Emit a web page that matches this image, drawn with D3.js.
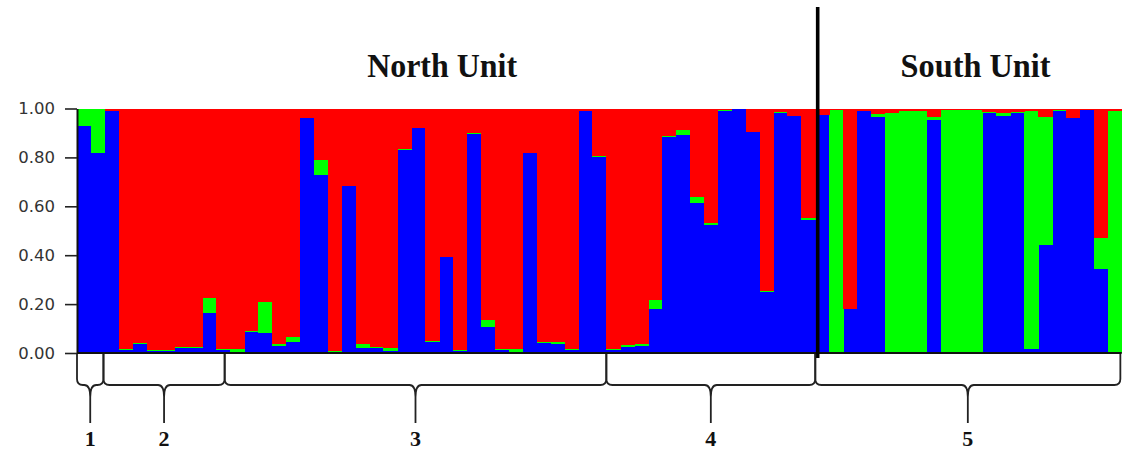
<!DOCTYPE html>
<html>
<head>
<meta charset="utf-8">
<script src="https://cdn.jsdelivr.net/npm/d3@7"></script>
<style>
  html, body { margin: 0; padding: 0; background: #fff; }
  svg { display: block; }
</style>
</head>
<body>
<svg id="chart" width="1123" height="452"></svg>
<script>
// Membership coefficients (Q) per individual for the three clusters,
// in plotting order, bottom to top: blue, green, red.
const qBlue = [
  0.93, 0.82, 0.99, 0.014, 0.037, 0.01, 0.01, 0.02, 0.02, 0.165,
  0.014, 0.004, 0.085, 0.08, 0.03, 0.045, 0.96, 0.73, 0.005, 0.685,
  0.02, 0.02, 0.01, 0.83, 0.92, 0.045, 0.393, 0.01, 0.895, 0.105,
  0.014, 0.005, 0.818, 0.041, 0.037, 0.014, 0.989, 0.80, 0.014, 0.023,
  0.03, 0.18, 0.882, 0.893, 0.612, 0.523, 0.989, 0.996, 0.903, 0.249,
  0.982, 0.968, 0.544, 0.975, 0.0, 0.18, 0.99, 0.965, 0.0, 0.0,
  0.005, 0.955, 0.0, 0.0, 0.0, 0.98, 0.968, 0.98, 0.015, 0.44,
  0.99, 0.96, 0.995, 0.345, 0.0
];
const qGreen = [
  0.07, 0.18, 0.0, 0.004, 0.003, 0.003, 0.003, 0.003, 0.003, 0.06,
  0.003, 0.012, 0.003, 0.13, 0.005, 0.02, 0.0, 0.06, 0.003, 0.0,
  0.017, 0.003, 0.01, 0.005, 0.0, 0.003, 0.0, 0.003, 0.003, 0.032,
  0.003, 0.01, 0.0, 0.003, 0.007, 0.003, 0.0, 0.004, 0.003, 0.01,
  0.005, 0.035, 0.004, 0.021, 0.028, 0.007, 0.003, 0.002, 0.002, 0.003,
  0.002, 0.003, 0.007, 0.0, 0.993, 0.0, 0.0, 0.012, 0.982, 0.99,
  0.985, 0.012, 0.995, 0.995, 0.995, 0.005, 0.012, 0.005, 0.975, 0.527,
  0.003, 0.0, 0.0, 0.125, 0.99
];
const qRed = [
  0.0, 0.0, 0.01, 0.982, 0.96, 0.987, 0.987, 0.977, 0.977, 0.775,
  0.983, 0.984, 0.912, 0.79, 0.965, 0.935, 0.04, 0.21, 0.992, 0.315,
  0.963, 0.977, 0.98, 0.165, 0.08, 0.952, 0.607, 0.987, 0.102, 0.863,
  0.983, 0.985, 0.182, 0.956, 0.956, 0.983, 0.011, 0.196, 0.983, 0.967,
  0.965, 0.785, 0.114, 0.086, 0.36, 0.47, 0.008, 0.002, 0.095, 0.748,
  0.016, 0.029, 0.449, 0.025, 0.007, 0.82, 0.01, 0.023, 0.018, 0.01,
  0.01, 0.033, 0.005, 0.005, 0.005, 0.015, 0.02, 0.015, 0.01, 0.033,
  0.007, 0.04, 0.005, 0.53, 0.01
];
const individuals = d3.range(1, qBlue.length + 1);

const yTicks = [0, 0.2, 0.4, 0.6, 0.8, 1.0];

// Sampling groups, as spans along the individual axis
const groupLabels = ["1", "2", "3", "4", "5"];
const groupStart  = [0, 1.9, 10.6, 38, 53];
const groupEnd    = [1.9, 10.6, 38, 53, 74.9];

// North / South split
const unitLabels = ["North Unit", "South Unit"];
const unitSpan   = [[0, 53], [53, 75]];
const unitSplit  = 53;

const colors = { blue: "#0000ff", green: "#00ff00", red: "#ff0000" };

const svg = d3.select("#chart");
const plotLeft = 77, barW = 13.93;
const plotRight = plotLeft + barW * individuals.length;

const x = d3.scaleBand().domain(individuals).range([plotLeft, plotRight]).padding(0);
const xPos = d3.scaleLinear().domain([0, individuals.length]).range([plotLeft, plotRight]);
const y = d3.scaleLinear().domain([0, 1]).range([353, 108.5]);

const rows = individuals.map((id, i) => ({ id, blue: qBlue[i], green: qGreen[i], red: qRed[i] }));
const series = d3.stack().keys(["blue", "green", "red"])(rows);

// Stacked bars
svg.append("g")
  .selectAll("g")
  .data(series)
  .join("g")
    .attr("fill", d => colors[d.key])
  .selectAll("rect")
  .data(d => d)
  .join("rect")
    .attr("shape-rendering", "crispEdges")
    .attr("x", d => x(d.data.id))
    .attr("width", x.bandwidth() + 0.4)
    .attr("y", d => y(Math.min(1, d[1])))
    .attr("height", d => Math.max(0, y(d[0]) - y(Math.min(1, d[1]))));

// Y axis
const yAxis = svg.append("g")
  .attr("transform", `translate(${plotLeft},0)`)
  .call(d3.axisLeft(y)
    .tickValues(yTicks)
    .tickFormat(d3.format(".2f"))
    .tickSize(12)
    .tickSizeOuter(0)
    .tickPadding(10));
yAxis.select(".domain").attr("stroke", "#111").attr("stroke-width", 2);
yAxis.selectAll(".tick line").attr("stroke", "#222").attr("stroke-width", 1.6);
yAxis.selectAll(".tick text")
  .attr("fill", "#333")
  .style("font-family", "'DejaVu Sans', sans-serif")
  .style("font-size", "16.5px");

// Baseline
svg.append("line")
  .attr("x1", plotLeft).attr("x2", plotRight)
  .attr("y1", y(0)).attr("y2", y(0))
  .attr("stroke", "#111").attr("stroke-width", 2);

// Divider between the two units
svg.append("line")
  .attr("x1", xPos(unitSplit) + 2.4).attr("x2", xPos(unitSplit) + 2.4)
  .attr("y1", 7).attr("y2", 358)
  .attr("stroke", "#000").attr("stroke-width", 3.6);

// Unit titles
svg.append("g")
  .selectAll("text")
  .data(unitLabels)
  .join("text")
    .attr("x", (d, i) => (xPos(unitSpan[i][0]) + xPos(unitSpan[i][1])) / 2 + (i === 0 ? -4 : 7))
    .attr("y", 77)
    .attr("text-anchor", "middle")
    .attr("textLength", 150)
    .attr("lengthAdjust", "spacingAndGlyphs")
    .attr("fill", "#111")
    .style("font-family", "'Liberation Serif', 'Times New Roman', serif")
    .style("font-weight", "bold")
    .style("font-size", "33px")
    .text(d => d);

// Curly braces under the groups
const braceTop = 354, braceMid = 385, braceTip = 397, braceStem = 423, r = 6;
function bracePath(x0, x1) {
  const xc = (x0 + x1) / 2;
  return [
    `M${x0},${braceTop}`,
    `L${x0},${braceMid - r}`,
    `Q${x0},${braceMid} ${x0 + r},${braceMid}`,
    `L${xc - r},${braceMid}`,
    `Q${xc},${braceMid} ${xc},${braceTip}`,
    `L${xc},${braceStem}`,
    `M${xc},${braceTip}`,
    `Q${xc},${braceMid} ${xc + r},${braceMid}`,
    `L${x1 - r},${braceMid}`,
    `Q${x1},${braceMid} ${x1},${braceMid - r}`,
    `L${x1},${braceTop}`
  ].join(" ");
}
const braces = svg.append("g");
braces.selectAll("path")
  .data(groupLabels)
  .join("path")
    .attr("d", (d, i) => bracePath(xPos(groupStart[i]), xPos(groupEnd[i])))
    .attr("fill", "none")
    .attr("stroke", "#222")
    .attr("stroke-width", 1.8);
braces.selectAll("text")
  .data(groupLabels)
  .join("text")
    .attr("x", (d, i) => (xPos(groupStart[i]) + xPos(groupEnd[i])) / 2)
    .attr("y", 446)
    .attr("text-anchor", "middle")
    .attr("fill", "#111")
    .style("font-family", "'Liberation Serif', 'Times New Roman', serif")
    .style("font-weight", "bold")
    .style("font-size", "22px")
    .text(d => d);
</script>
</body>
</html>
